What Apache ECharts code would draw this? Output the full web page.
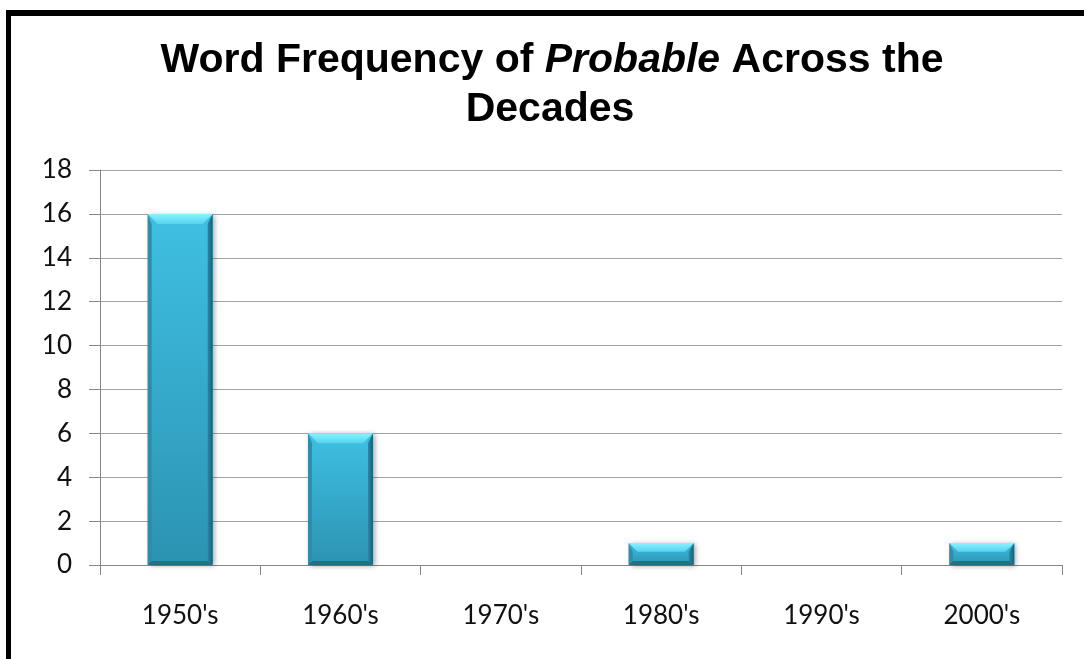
<!DOCTYPE html>
<html>
<head>
<meta charset="utf-8">
<script src="https://cdn.jsdelivr.net/npm/echarts@6/dist/echarts.min.js"></script>
<style>
  html, body { margin: 0; padding: 0; background: #fff; }
  #chart { width: 1084px; height: 659px; }
</style>
</head>
<body>
<div id="chart"></div>
<script>
const categories = ["1950's", "1960's", "1970's", "1980's", "1990's", "2000's"];
const frequency = [16, 6, 0, 1, 0, 1];
const yMin = 0, yMax = 18, yStep = 2;
const titleLine1 = ['Word Frequency of ', 'Probable', ' Across the'];
const titleLine2 = 'Decades';

const chart = echarts.init(document.getElementById('chart'), null, { renderer: 'canvas' });

function renderBar(params, api) {
  const v = api.value(1);
  if (!v) return null;
  const top = api.coord([api.value(0), v]);
  const base = api.coord([api.value(0), 0]);
  const band = api.size([1, 0])[0];
  const w = band * 0.405;
  const x0 = top[0] - w / 2, x1 = top[0] + w / 2;
  const yT = top[1], yB = base[1];
  const h = yB - yT;
  const b = Math.min(10, h / 2.5);
  const e = Math.min(4, h / 4);
  return {
    type: 'group',
    children: [
      { type: 'rect', shape: { x: x0, y: yT, width: w, height: h },
        style: { fill: new echarts.graphic.LinearGradient(0, 0, 0, 1, [
          { offset: 0, color: '#3fc0e3' }, { offset: 1, color: '#2c93b2' }]),
          shadowBlur: 5, shadowColor: 'rgba(0,0,0,0.35)', shadowOffsetX: 2, shadowOffsetY: 1 } },
      { type: 'polygon', shape: { points: [[x0, yT], [x0 + e, yT + b], [x0 + e, yB - e], [x0, yB]] },
        style: { fill: '#2b8eab' } },
      { type: 'polygon', shape: { points: [[x1, yT], [x1 - e - 1, yT + b], [x1 - e - 1, yB - e], [x1, yB]] },
        style: { fill: new echarts.graphic.LinearGradient(0, 0, 1, 0, [
          { offset: 0, color: '#2a89a5' }, { offset: 1, color: '#1b5f73' }]) } },
      { type: 'polygon', shape: { points: [[x0, yB], [x1, yB], [x1 - e - 1, yB - e], [x0 + e, yB - e]] },
        style: { fill: '#236f86' } },
      { type: 'polygon', shape: { points: [[x0, yT], [x1, yT], [x1 - b, yT + b], [x0 + b, yT + b]] },
        style: { fill: new echarts.graphic.LinearGradient(0, 0, 0, 1, [
          { offset: 0, color: '#8cf2ff' }, { offset: 1, color: '#55d3ee' }]) } }
    ]
  };
}

const labelFont = 'Lato, "Open Sans", sans-serif';

chart.setOption({
  animation: false,
  backgroundColor: '#ffffff',
  grid: { left: 100, right: 22, top: 170, bottom: 94, containLabel: false },
  xAxis: {
    type: 'category',
    data: categories,
    axisLine: { show: true, lineStyle: { color: '#868686', width: 1 } },
    axisTick: { show: true, alignWithLabel: false, length: 10, lineStyle: { color: '#868686' } },
    axisLabel: { margin: 38, color: '#111', fontFamily: labelFont, fontSize: 26 },
    splitLine: { show: false }
  },
  yAxis: {
    type: 'value',
    min: yMin, max: yMax, interval: yStep,
    axisLine: { show: true, lineStyle: { color: '#868686', width: 1 } },
    axisTick: { show: true, length: 11, lineStyle: { color: '#868686' } },
    axisLabel: { margin: 28, color: '#111', fontFamily: labelFont, fontSize: 26 },
    splitLine: { show: true, lineStyle: { color: '#a3a3a3', width: 1 } }
  },
  series: [{
    type: 'custom',
    renderItem: renderBar,
    data: frequency.map((v, i) => [i, v]),
    encode: { x: 0, y: 1 },
    z: 3
  }],
  graphic: [
    { type: 'rect', silent: true, shape: { x: 6, y: 10, width: 5, height: 700 }, style: { fill: '#000' } },
    { type: 'rect', silent: true, shape: { x: 6, y: 10, width: 1100, height: 6 }, style: { fill: '#000' } },
    { type: 'text', silent: true, x: 552, y: 61,
      style: {
        text: '{b|' + titleLine1[0] + '}{i|' + titleLine1[1] + '}{b|' + titleLine1[2] + '}',
        align: 'center', verticalAlign: 'middle',
        rich: {
          b: { fontFamily: '"Liberation Sans", Arial, sans-serif', fontWeight: 'bold', fontSize: 41, fill: '#000' },
          i: { fontFamily: '"Liberation Sans", Arial, sans-serif', fontWeight: 'bold', fontStyle: 'italic', fontSize: 41, fill: '#000' }
        }
      } },
    { type: 'text', silent: true, x: 550, y: 110,
      style: { text: titleLine2, align: 'center', verticalAlign: 'middle',
        fontFamily: '"Liberation Sans", Arial, sans-serif', fontWeight: 'bold', fontSize: 41, fill: '#000' } }
  ]
});
</script>
</body>
</html>
